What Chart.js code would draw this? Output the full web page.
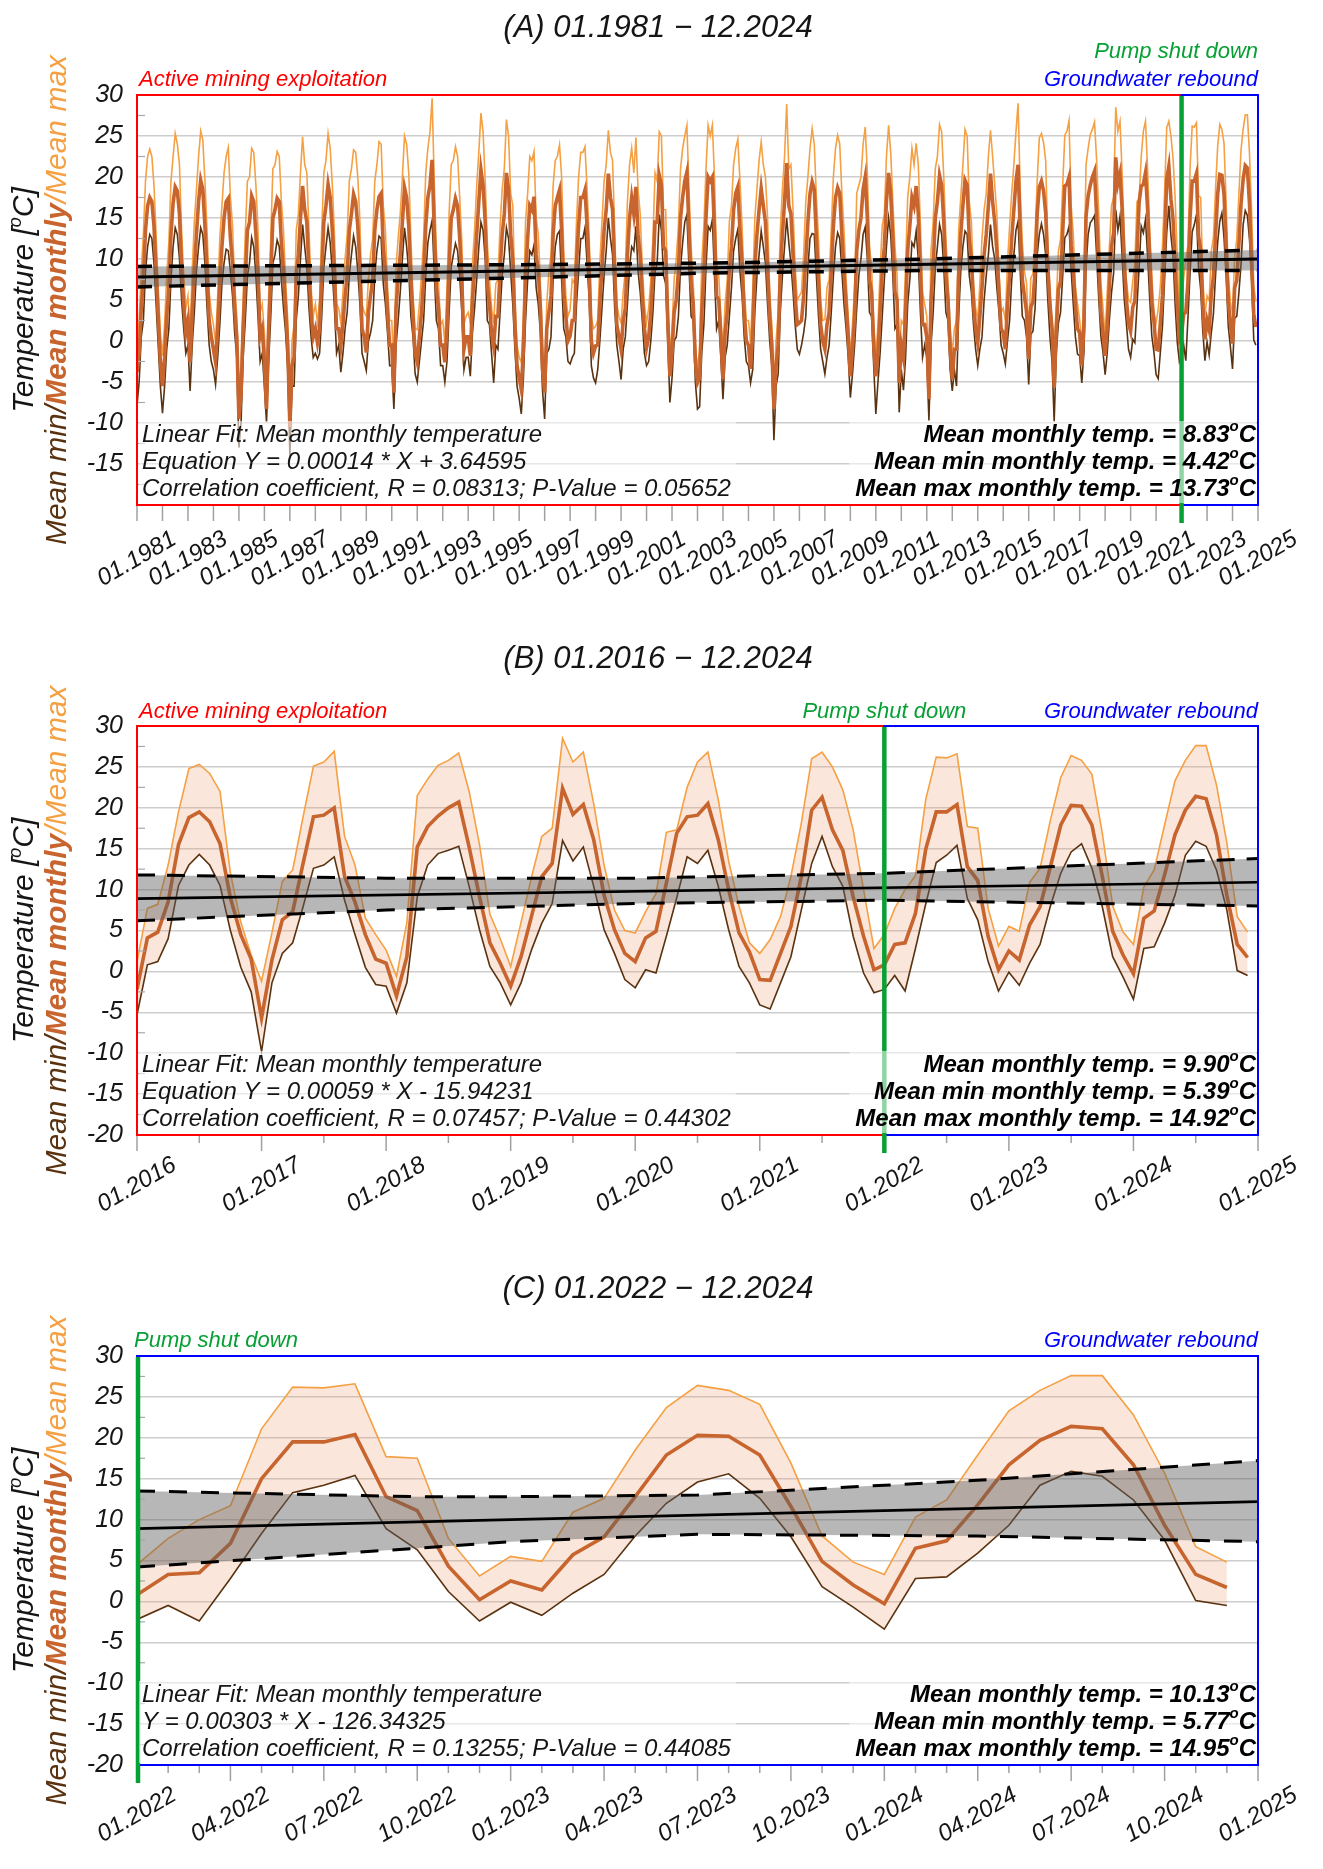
<!DOCTYPE html>
<html>
<head>
<meta charset="utf-8">
<script src="https://cdn.jsdelivr.net/npm/chart.js@4.4.1/dist/chart.umd.min.js"></script>
<style>
  html, body { margin: 0; padding: 0; background: #fff; }
  #wrap { position: relative; width: 1323px; height: 1869px; }
  canvas { position: absolute; left: 0; }
</style>
</head>
<body>
<div id="wrap">
  <canvas id="chartA" width="1323" height="630" style="top:0px;width:1323px;height:630px"></canvas>
  <canvas id="chartB" width="1323" height="630" style="top:630px;width:1323px;height:630px"></canvas>
  <canvas id="chartC" width="1323" height="609" style="top:1260px;width:1323px;height:609px"></canvas>
</div>
<script>
const FONT = "'Liberation Sans', Arial, Helvetica, sans-serif";
const START_YEAR = 1981;
const PUMP_SHUT_DOWN = 2022;

// monthly mean temperature, one row per year, Jan..Dec
const meanTemp = [
  -3.8, -1.5, 4.0, 7.5, 13.5, 16.5, 17.5, 17.0, 14.0, 8.5, 3.0, -2.5,   // 1981
  -5.5, -2.0, 3.0, 6.5, 13.0, 16.8, 18.8, 18.3, 15.5, 9.0, 4.5, 1.0,    // 1982
  2.5, -2.6, 3.5, 8.5, 13.0, 17.0, 19.6, 18.5, 14.0, 8.5, 2.5, 0.5,     // 1983
  -1.0, -2.6, 1.5, 7.0, 11.5, 15.0, 17.0, 17.4, 12.5, 9.5, 4.0, 0.5,    // 1984
  -9.5, -6.5, 1.5, 7.5, 13.5, 14.5, 17.7, 17.0, 13.0, 8.0, 0.5, 1.5,    // 1985
  -2.5, -8.3, 1.5, 7.5, 15.0, 16.0, 17.4, 17.0, 12.0, 8.5, 4.0, -0.5,   // 1986
  -10.5, -3.0, -2.0, 8.0, 10.5, 15.0, 18.9, 16.0, 14.5, 8.5, 3.5, 0.5,  // 1987
  1.5, -0.2, 1.5, 8.0, 14.5, 16.5, 19.1, 17.5, 13.5, 8.5, 1.5, 1.5,     // 1988
  -0.6, 2.0, 5.5, 8.0, 13.5, 15.5, 17.9, 17.0, 14.0, 9.0, 1.5, 0.5,     // 1989
  -1.4, 3.5, 5.5, 7.5, 13.5, 16.0, 17.6, 18.0, 11.5, 8.5, 3.5, -0.5,    // 1990
  -0.5, -6.3, 4.0, 7.5, 10.5, 14.5, 18.7, 17.5, 14.0, 7.5, 3.0, -1.5,   // 1991
  -2.6, 0.5, 3.5, 7.5, 14.0, 17.5, 19.0, 22.1, 13.5, 6.5, 4.0, -0.5,    // 1992
  -0.5, -2.6, 1.5, 9.0, 15.0, 16.0, 17.4, 16.5, 12.5, 7.5, -1.0, 0.5,   // 1993
  0.5, -1.8, 5.0, 8.5, 13.0, 17.0, 20.9, 19.0, 14.5, 7.0, 4.5, 1.0,     // 1994
  -0.6, 3.0, 3.0, 8.5, 13.0, 15.5, 20.5, 18.5, 13.0, 10.0, 2.0, -3.0,   // 1995
  -4.5, -5.9, -1.0, 8.0, 12.5, 16.5, 16.0, 17.6, 10.5, 8.5, 4.0, -3.5,  // 1996
  -6.3, 1.5, 3.5, 5.5, 13.0, 16.5, 17.5, 18.4, 13.5, 6.0, 3.0, 0.0,     // 1997
  0.6, 2.5, 2.5, 9.5, 14.0, 17.5, 17.5, 18.4, 14.0, 8.5, 0.0, -1.5,     // 1998
  -0.6, -0.5, 4.5, 9.0, 13.5, 16.0, 20.4, 17.5, 16.0, 8.5, 2.0, 0.5,    // 1999
  -1.0, 2.5, 4.0, 10.5, 15.0, 17.5, 15.5, 18.8, 13.0, 10.5, 5.5, 1.5,   // 2000
  -0.8, 0.5, 3.5, 8.0, 14.5, 14.5, 20.2, 19.0, 11.5, 11.0, 2.5, -4.3,   // 2001
  -1.5, 3.5, 5.0, 8.5, 15.0, 17.5, 19.5, 20.6, 13.5, 7.0, 4.5, -2.5,    // 2002
  -5.1, -4.5, 3.5, 8.0, 15.0, 20.0, 19.5, 20.0, 13.5, 5.5, 5.0, 0.5,    // 2003
  -4.7, 1.0, 3.5, 8.5, 11.5, 16.0, 18.0, 18.8, 13.5, 9.5, 3.5, 0.0,     // 2004
  -0.5, -3.4, 1.0, 9.0, 13.0, 16.0, 18.6, 16.5, 14.5, 9.0, 3.0, -0.5,   // 2005
  -8.3, -3.0, -0.5, 8.5, 13.0, 17.0, 21.7, 16.5, 15.5, 10.5, 5.5, 2.0,  // 2006
  2.2, 2.5, 5.5, 10.0, 14.5, 18.0, 19.4, 18.5, 12.5, 7.5, 2.0, 0.0,     // 2007
  -1.0, 2.0, 3.5, 8.5, 14.0, 17.5, 18.7, 18.0, 13.0, 8.5, 4.5, 0.5,     // 2008
  -4.3, -1.0, 3.0, 11.0, 13.5, 15.0, 18.5, 20.0, 15.0, 7.5, 6.0, -0.5,  // 2009
  -4.3, -1.5, 3.5, 8.5, 11.5, 17.0, 20.5, 18.0, 12.5, 6.0, 5.0, -5.1,   // 2010
  -0.5, -2.0, 3.5, 11.0, 14.0, 17.5, 16.5, 18.9, 15.5, 8.5, 2.0, 2.0,   // 2011
  0.5, -7.1, 5.0, 9.0, 15.0, 17.0, 20.2, 19.0, 14.5, 8.0, 5.0, -1.0,    // 2012
  -4.7, -1.0, -1.0, 8.0, 13.0, 16.5, 19.6, 19.0, 12.5, 10.0, 4.5, 1.5,  // 2013
  -0.2, 3.0, 6.5, 10.5, 13.0, 16.5, 20.4, 17.0, 14.5, 11.0, 6.0, 1.5,   // 2014
  1.0, -1.0, 4.5, 8.0, 12.5, 16.0, 19.5, 21.5, 13.5, 7.5, 5.5, 3.5,     // 2015
  -2.2, 4.1, 4.8, 8.5, 15.5, 18.8, 19.5, 18.3, 15.6, 9.0, 4.5, 1.5,     // 2016
  -5.7, 1.4, 6.3, 7.3, 13.2, 18.9, 19.1, 20.0, 11.6, 8.5, 4.5, 1.5,     // 2017
  1.0, -3.0, 1.8, 15.2, 17.7, 19.0, 20.0, 20.7, 15.2, 9.1, 3.5, 1.0,    // 2018
  -1.8, 1.8, 6.7, 11.6, 13.2, 22.4, 19.2, 20.4, 16.1, 9.3, 5.1, 2.2,    // 2019
  1.2, 4.1, 4.9, 10.8, 16.9, 18.9, 19.1, 20.5, 16.1, 10.0, 4.7, 2.4,    // 2020
  -1.0, -1.1, 2.2, 5.5, 11.6, 19.7, 21.3, 17.3, 14.8, 9.1, 4.3, 0.2,    // 2021
  0.8, 3.3, 3.5, 7.1, 15.0, 19.5, 19.5, 20.4, 12.8, 11.1, 4.3, 0.2,     // 2022
  2.5, 1.4, 5.7, 7.9, 12.8, 17.9, 20.3, 20.2, 17.9, 11.6, 4.9, 2.0,     // 2023
  -0.3, 6.5, 7.4, 11.8, 16.7, 19.7, 21.4, 21.1, 16.7, 9.3, 3.3, 1.7     // 2024
];

// monthly mean of daily maxima
const maxTemp = [
  -0.6, 2.5, 8.5, 13.0, 19.5, 22.5, 23.4, 22.5, 19.0, 13.0, 6.5, 1.0,   // 1981
  -1.8, 2.0, 8.0, 12.0, 19.5, 22.5, 25.3, 24.0, 21.5, 13.5, 8.0, 4.0,   // 1982
  5.5, 0.5, 8.5, 14.5, 18.5, 22.5, 25.6, 24.5, 19.5, 13.5, 6.0, 3.5,    // 1983
  2.0, -0.2, 5.5, 12.5, 16.5, 20.5, 22.5, 23.6, 17.5, 14.0, 7.0, 3.0,   // 1984
  -5.9, -3.0, 5.5, 13.0, 19.5, 20.0, 23.5, 23.0, 19.0, 13.5, 3.5, 4.5,  // 1985
  1.0, -4.7, 5.5, 12.5, 21.0, 21.5, 23.1, 22.5, 17.0, 13.5, 7.5, 2.5,   // 1986
  -7.9, 0.0, 2.0, 13.5, 15.5, 20.5, 24.9, 21.5, 20.5, 13.5, 6.5, 3.0,   // 1987
  4.5, 2.2, 5.0, 13.5, 20.5, 22.0, 25.3, 23.5, 19.0, 13.0, 4.5, 4.0,    // 1988
  2.2, 6.0, 10.0, 13.0, 19.5, 21.0, 23.3, 23.0, 20.0, 14.5, 4.5, 3.5,   // 1989
  3.0, 7.5, 10.5, 12.5, 19.5, 21.5, 24.3, 24.0, 16.5, 13.5, 6.5, 2.5,   // 1990
  2.5, -3.8, 9.0, 12.5, 15.5, 20.0, 25.0, 24.0, 20.5, 12.5, 5.5, 1.5,   // 1991
  1.4, 4.5, 8.0, 12.5, 20.5, 23.5, 25.5, 29.6, 19.5, 11.0, 7.0, 2.0,    // 1992
  2.5, -0.2, 6.5, 15.5, 21.5, 22.0, 23.7, 22.5, 17.5, 12.0, 2.0, 3.0,   // 1993
  3.5, 2.2, 9.5, 13.5, 19.0, 23.0, 27.8, 25.5, 19.5, 12.0, 7.5, 4.0,    // 1994
  2.2, 7.0, 7.5, 14.0, 18.5, 21.0, 27.0, 25.0, 18.0, 16.5, 5.0, -0.5,   // 1995
  -2.0, -2.6, 3.0, 14.5, 18.0, 22.5, 22.0, 23.1, 15.0, 13.0, 7.0, -0.5, // 1996
  -4.3, 4.5, 8.5, 10.5, 19.0, 22.0, 22.5, 23.9, 20.0, 11.0, 5.5, 3.0,   // 1997
  3.8, 7.5, 7.0, 14.5, 20.0, 23.0, 23.0, 23.7, 18.5, 12.5, 3.0, 1.5,    // 1998
  1.8, 2.5, 9.5, 14.5, 19.5, 21.5, 25.7, 23.0, 22.0, 13.5, 4.5, 3.0,    // 1999
  2.2, 6.0, 8.5, 17.0, 21.5, 23.5, 20.5, 24.8, 18.5, 15.5, 9.0, 4.5,    // 2000
  2.2, 4.0, 7.5, 12.5, 20.5, 19.5, 25.5, 25.0, 16.0, 16.0, 5.5, -1.5,   // 2001
  1.5, 7.5, 10.0, 14.0, 21.0, 23.5, 25.0, 26.3, 18.5, 11.5, 7.0, -0.5,  // 2002
  -3.4, -1.0, 9.5, 14.0, 21.0, 26.3, 25.0, 26.3, 20.0, 9.5, 8.0, 3.0,   // 2003
  -1.0, 4.5, 7.5, 14.5, 16.5, 21.5, 23.5, 24.6, 19.5, 14.0, 6.5, 2.5,   // 2004
  2.5, -0.2, 6.0, 15.0, 18.5, 22.0, 24.3, 21.5, 20.0, 15.0, 6.0, 2.0,   // 2005
  -5.9, 0.0, 3.5, 13.5, 18.5, 22.5, 28.9, 21.0, 21.5, 16.0, 9.0, 5.0,   // 2006
  5.5, 6.0, 10.5, 17.0, 20.0, 23.5, 25.9, 24.0, 17.5, 12.5, 5.0, 2.5,   // 2007
  2.6, 6.5, 7.5, 13.5, 20.0, 23.5, 25.1, 24.0, 18.0, 13.5, 7.5, 3.0,    // 2008
  -1.8, 2.0, 6.5, 18.0, 19.0, 20.0, 24.0, 26.1, 20.5, 11.5, 9.0, 2.0,   // 2009
  -1.8, 2.0, 8.5, 14.0, 15.5, 22.5, 26.3, 23.0, 17.0, 11.5, 8.0, -2.0,  // 2010
  2.5, 2.0, 9.0, 17.5, 20.0, 23.5, 21.5, 24.1, 21.5, 14.0, 6.0, 4.5,    // 2011
  3.0, -3.5, 11.0, 14.5, 21.0, 22.5, 26.4, 25.5, 20.0, 12.5, 7.5, 1.5,  // 2012
  -1.5, 1.5, 2.5, 13.5, 17.5, 21.5, 25.8, 25.0, 17.0, 14.5, 7.0, 4.0,   // 2013
  2.5, 7.0, 12.5, 16.0, 18.0, 22.5, 25.7, 22.5, 19.0, 15.5, 8.5, 3.5,   // 2014
  4.0, 2.5, 9.5, 14.0, 18.0, 21.5, 25.5, 29.0, 18.5, 12.0, 8.5, 7.0,    // 2015
  1.2, 7.7, 8.2, 13.0, 19.5, 24.8, 25.3, 24.2, 22.0, 12.0, 6.0, 2.0,    // 2016
  -1.2, 4.7, 11.0, 12.4, 18.9, 25.1, 25.6, 26.9, 16.5, 13.0, 6.5, 4.5,  // 2017
  2.6, -0.6, 6.0, 21.5, 23.5, 25.2, 25.8, 26.7, 22.0, 15.5, 7.0, 4.0,   // 2018
  0.6, 6.0, 11.5, 16.5, 17.5, 28.5, 25.6, 26.8, 20.5, 13.0, 7.5, 5.0,   // 2019
  4.7, 7.3, 9.5, 17.0, 17.3, 22.5, 25.6, 26.8, 21.0, 13.5, 8.0, 3.5,    // 2020
  2.2, 3.9, 6.7, 11.6, 18.1, 26.0, 26.8, 25.0, 22.2, 17.3, 10.0, 2.8,   // 2021
  4.5, 7.7, 10.0, 11.7, 21.1, 26.2, 26.1, 26.6, 17.7, 17.5, 7.7, 3.1,   // 2022
  5.5, 4.9, 10.9, 12.6, 18.5, 23.7, 26.4, 25.8, 24.1, 16.9, 8.0, 4.8,   // 2023
  3.3, 10.3, 12.4, 17.9, 23.3, 25.8, 27.6, 27.6, 22.8, 15.7, 6.7, 4.8   // 2024
];

// monthly mean of daily minima
const minTemp = [
  -7.9, -5.0, 0.5, 2.5, 8.5, 11.5, 13.0, 12.5, 9.5, 4.5, -0.5, -5.5,    // 1981
  -8.8, -5.5, -1.0, 1.5, 7.5, 11.5, 13.8, 13.0, 10.0, 5.0, 1.5, -1.5,   // 1982
  -0.5, -6.1, -0.5, 3.5, 8.5, 11.5, 13.8, 13.0, 9.5, 4.0, -0.5, -2.5,   // 1983
  -3.5, -5.3, -2.0, 2.0, 7.0, 9.5, 11.2, 11.0, 8.5, 5.5, 1.0, -2.0,     // 1984
  -13.0, -10.0, -2.0, 2.5, 8.0, 9.5, 12.6, 11.5, 8.0, 3.0, -2.5, -1.5,  // 1985
  -5.5, -9.9, -2.5, 3.0, 9.5, 10.5, 12.3, 11.5, 7.5, 4.0, 1.0, -3.5,    // 1986
  -14.0, -5.5, -5.5, 2.5, 5.5, 10.0, 14.2, 11.5, 9.0, 4.0, 0.5, -2.0,   // 1987
  -1.5, -2.2, -1.5, 3.0, 9.0, 11.5, 13.8, 12.0, 8.5, 4.0, -1.5, -0.5,   // 1988
  -3.8, -1.5, 1.5, 3.5, 8.0, 10.5, 12.8, 11.5, 8.5, 4.5, -1.5, -2.5,    // 1989
  -3.6, 0.0, 1.0, 2.5, 8.0, 11.0, 12.8, 12.5, 7.0, 4.5, 1.0, -3.0,      // 1990
  -3.0, -8.3, -0.5, 2.5, 6.0, 10.0, 13.8, 11.5, 8.5, 3.0, 0.5, -4.0,    // 1991
  -5.0, -2.5, 0.0, 2.5, 8.0, 12.0, 13.5, 14.7, 8.5, 2.5, 1.5, -3.0,     // 1992
  -3.0, -5.0, -2.5, 3.5, 9.0, 10.5, 11.9, 11.0, 8.0, 3.5, -3.5, -2.0,   // 1993
  -2.0, -4.3, 1.0, 4.0, 7.5, 11.5, 14.5, 13.5, 10.0, 2.5, 2.0, -1.5,    // 1994
  -5.1, -0.5, -1.0, 3.5, 8.0, 10.5, 13.8, 12.5, 8.5, 4.5, -1.0, -5.5,   // 1995
  -7.0, -8.9, -4.5, 2.5, 7.5, 11.0, 10.5, 11.7, 6.5, 4.5, 1.0, -6.0,    // 1996
  -9.5, -1.5, -1.0, 0.5, 7.5, 11.5, 13.0, 13.4, 7.5, 1.5, 0.5, -2.5,    // 1997
  -2.8, -2.0, -1.5, 4.5, 8.5, 12.5, 12.5, 13.8, 9.5, 5.0, -3.0, -4.5,   // 1998
  -5.1, -3.5, 0.0, 4.0, 8.0, 11.0, 15.0, 12.5, 10.5, 4.0, -0.5, -2.5,   // 1999
  -4.7, -1.0, 0.5, 4.5, 9.0, 11.5, 11.0, 14.0, 8.5, 6.0, 2.5, -1.5,     // 2000
  -3.0, -2.5, 0.0, 3.5, 8.5, 9.5, 15.4, 13.5, 8.0, 7.0, 0.0, -7.5,      // 2001
  -4.5, 0.0, 0.5, 3.0, 9.0, 12.0, 14.5, 15.4, 9.0, 3.0, 2.5, -5.0,      // 2002
  -8.3, -8.0, -1.5, 2.0, 9.0, 14.0, 13.5, 14.8, 8.0, 1.5, 2.5, -2.0,    // 2003
  -7.1, -2.0, -0.5, 3.0, 6.5, 11.0, 12.5, 13.6, 8.5, 5.5, 0.5, -2.5,    // 2004
  -3.0, -5.1, -3.5, 3.5, 8.0, 10.5, 13.4, 11.5, 9.5, 4.5, 0.0, -3.0,    // 2005
  -12.1, -5.5, -4.0, 3.5, 8.0, 11.5, 15.0, 12.0, 9.5, 6.0, 2.0, -1.0,   // 2006
  -1.6, -0.5, 1.0, 3.0, 9.0, 12.5, 13.1, 13.0, 8.0, 3.0, -1.0, -2.5,    // 2007
  -4.0, -2.0, -0.5, 3.5, 8.0, 11.5, 13.2, 12.5, 8.5, 4.5, 1.5, -2.0,    // 2008
  -6.9, -4.0, -0.5, 4.0, 8.0, 10.0, 13.0, 13.9, 10.0, 3.5, 3.0, -3.0,   // 2009
  -8.9, -5.0, -1.5, 3.0, 7.5, 11.5, 15.0, 13.0, 8.0, 1.5, 2.0, -8.7,    // 2010
  -3.5, -6.0, -2.0, 4.5, 7.5, 12.0, 11.5, 13.4, 10.0, 3.5, -2.0, -0.5,  // 2011
  -2.0, -9.7, -0.5, 3.5, 9.0, 11.5, 14.2, 13.0, 9.0, 3.5, 2.5, -3.5,    // 2012
  -6.1, -3.5, -5.5, 3.0, 8.5, 11.5, 13.4, 13.0, 8.0, 6.0, 2.0, -1.0,    // 2013
  -3.0, -1.0, 0.5, 5.0, 8.0, 10.5, 14.2, 11.5, 10.0, 6.5, 3.5, -0.5,    // 2014
  -1.5, -2.8, 0.0, 2.5, 7.5, 10.5, 13.5, 14.6, 8.5, 3.0, 2.5, 0.5,      // 2015
  -5.3, 0.8, 1.2, 4.0, 10.5, 13.0, 14.3, 13.0, 10.5, 5.0, 0.5, -2.5,    // 2016
  -9.8, -1.4, 2.2, 3.5, 7.9, 12.6, 13.0, 14.0, 8.7, 4.5, 0.5, -1.6,     // 2017
  -1.8, -5.1, -1.4, 9.1, 13.0, 14.4, 14.8, 15.3, 10.4, 5.1, 0.6, -1.4,  // 2018
  -4.1, -1.4, 2.6, 5.9, 8.3, 16.0, 13.5, 15.2, 10.4, 5.1, 2.2, -1.0,    // 2019
  -2.0, 0.2, -0.2, 4.3, 9.0, 14.0, 13.2, 14.8, 10.4, 5.1, 0.6, -1.4,    // 2020
  -4.1, -4.6, -1.4, 1.8, 7.5, 13.2, 16.5, 12.8, 10.4, 4.3, -0.2, -2.6,  // 2021
  -2.2, -0.5, -2.4, 2.8, 8.3, 13.3, 14.2, 15.4, 8.9, 6.3, 1.2, -2.4,    // 2022
  -0.1, -1.7, 1.0, 3.3, 8.0, 12.0, 14.6, 15.6, 12.6, 7.9, 1.8, -0.7,    // 2023
  -3.4, 2.8, 3.0, 5.9, 9.3, 14.2, 15.9, 15.3, 12.4, 7.5, 0.1, -0.5      // 2024
];

const labelsA = ['01.1981', '01.1983', '01.1985', '01.1987', '01.1989', '01.1991', '01.1993',
  '01.1995', '01.1997', '01.1999', '01.2001', '01.2003', '01.2005', '01.2007', '01.2009',
  '01.2011', '01.2013', '01.2015', '01.2017', '01.2019', '01.2021', '01.2023', '01.2025'];
const labelsB = ['01.2016', '01.2017', '01.2018', '01.2019', '01.2020', '01.2021', '01.2022',
  '01.2023', '01.2024', '01.2025'];
const labelsC = ['01.2022', '04.2022', '07.2022', '10.2022', '01.2023', '04.2023', '07.2023',
  '10.2023', '01.2024', '04.2024', '07.2024', '10.2024', '01.2025'];

// linear fit of the mean and its band
const fitYearsA = [1981, 2025];
const fitA = [7.8, 10.0];
const bandYearsA = [1981, 1996, 2003.5, 2012, 2025];
const bandUpperA = [9.1, 9.3, 9.5, 10.0, 11.1];
const bandLowerA = [6.6, 7.7, 8.3, 8.6, 8.6];

const fitYearsB = [2016, 2025];
const fitB = [8.9, 10.9];
const bandYearsB = [2016, 2018, 2020, 2022, 2025];
const bandUpperB = [11.8, 11.4, 11.4, 12.0, 13.8];
const bandLowerB = [6.2, 7.5, 8.3, 8.7, 8.0];

const fitYearsC = [2022, 2025];
const fitC = [8.9, 12.2];
const bandYearsC = [2022, 2022.75, 2023, 2023.5, 2024.25, 2025];
const bandUpperC = [13.5, 12.8, 12.8, 13.0, 14.8, 17.2];
const bandLowerC = [4.2, 6.5, 7.3, 8.2, 8.0, 7.3];

const fitTextA = ['Linear Fit: Mean monthly temperature', 'Equation Y = 0.00014 * X + 3.64595',
  'Correlation coefficient, R = 0.08313; P-Value = 0.05652'];
const fitTextB = ['Linear Fit: Mean monthly temperature', 'Equation Y = 0.00059 * X - 15.94231',
  'Correlation coefficient, R = 0.07457; P-Value = 0.44302'];
const fitTextC = ['Linear Fit: Mean monthly temperature', 'Y = 0.00303 * X - 126.34325',
  'Correlation coefficient, R = 0.13255; P-Value = 0.44085'];
const statsA = ['Mean monthly temp. = 8.83°C', 'Mean min monthly temp. = 4.42°C', 'Mean max monthly temp. = 13.73°C'];
const statsB = ['Mean monthly temp. = 9.90°C', 'Mean min monthly temp. = 5.39°C', 'Mean max monthly temp. = 14.92°C'];
const statsC = ['Mean monthly temp. = 10.13°C', 'Mean min monthly temp. = 5.77°C', 'Mean max monthly temp. = 14.95°C'];

const COLOR_MAX = '#f5a043';
const COLOR_MEAN = '#c8642d';
const COLOR_MIN = '#5a3210';
const COLOR_RED = '#ff0000';
const COLOR_BLUE = '#0000ff';
const COLOR_GREEN = '#07a034';

function monthPoints(values, fromYear, toYear) {
	const first = (fromYear - START_YEAR) * 12;
	const last = (toYear - START_YEAR) * 12;
	return values.slice(first, last).map((v, i) => ({ x: fromYear + i / 12, y: v }));
}

function pairPoints(xs, ys) {
	return xs.map((x, i) => ({ x, y: ys[i] }));
}

function labelValue(label) {
	const [month, year] = label.split('.').map(Number);
	return year + (month - 1) / 12;
}

// split text on '°' so the degree sign is drawn as a small raised "o"
function richParts(text, font, supFont, color) {
	const parts = [];
	text.split('°').forEach((chunk, i) => {
		if (i > 0) parts.push({ text: 'o', font: supFont, color, sup: true });
		if (chunk) parts.push({ text: chunk, font, color });
	});
	return parts;
}

function measureParts(ctx, parts) {
	let width = 0;
	parts.forEach((p) => {
		ctx.font = p.font;
		p.w = ctx.measureText(p.text).width;
		width += p.w;
	});
	return width;
}

function drawParts(ctx, parts, x, y, align, raise = 8) {
	const width = measureParts(ctx, parts);
	let cx = align === 'right' ? x - width : align === 'center' ? x - width / 2 : x;
	ctx.textAlign = 'left';
	ctx.textBaseline = 'middle';
	parts.forEach((p) => {
		ctx.font = p.font;
		ctx.fillStyle = p.color;
		ctx.fillText(p.text, cx, p.sup ? y - raise : y);
		cx += p.w;
	});
	return width;
}

const panelPlugin = {
	id: 'panel',
	afterDatasetsDraw(chart, args, o) {
		const { ctx, chartArea: a } = chart;
		const xScale = chart.scales.x;
		const pumpX = xScale.getPixelForValue(PUMP_SHUT_DOWN);
		ctx.save();

		// small ticks at the half steps of the y axis
		ctx.strokeStyle = '#a8a8a8';
		ctx.lineWidth = 1.2;
		for (let v = -17.5; v < 30; v += 5) {
			const py = chart.scales.y.getPixelForValue(v);
			ctx.beginPath();
			ctx.moveTo(a.left, py);
			ctx.lineTo(a.left + 8, py);
			ctx.stroke();
		}

		// ticks under the x axis
		ctx.strokeStyle = '#a0a0a0';
		ctx.lineWidth = 1.5;
		const steps = Math.round((o.xMax - o.xMin) / o.tickStep);
		for (let i = 0; i <= steps; i++) {
			const px = xScale.getPixelForValue(o.xMin + i * o.tickStep);
			const len = i % o.majorEvery === 0 ? 16 : 8;
			ctx.beginPath();
			ctx.moveTo(px, a.bottom);
			ctx.lineTo(px, a.bottom + len);
			ctx.stroke();
		}

		ctx.lineWidth = 2;
		if (pumpX > a.left + 1) {
			ctx.strokeStyle = COLOR_RED;
			ctx.strokeRect(a.left, a.top, pumpX - a.left, a.bottom - a.top);
		}
		ctx.strokeStyle = COLOR_BLUE;
		ctx.strokeRect(pumpX, a.top, a.right - pumpX, a.bottom - a.top);

		ctx.strokeStyle = COLOR_GREEN;
		ctx.lineWidth = 4.5;
		ctx.beginPath();
		ctx.moveTo(pumpX + (pumpX > a.left + 1 ? 0 : 1), a.top + 1);
		ctx.lineTo(pumpX + (pumpX > a.left + 1 ? 0 : 1), a.bottom + 18);
		ctx.stroke();
		ctx.restore();
	},
	afterDraw(chart, args, o) {
		const { ctx, chartArea: a } = chart;
		const xScale = chart.scales.x;
		const pumpX = xScale.getPixelForValue(PUMP_SHUT_DOWN);
		const regular = `italic 24px ${FONT}`;
		const bold = `italic bold 24px ${FONT}`;
		const sup = `italic 15px ${FONT}`;
		const supBold = `italic bold 15px ${FONT}`;
		const rows = [a.bottom - 70, a.bottom - 43, a.bottom - 16];
		ctx.save();

		// text blocks sit on a half transparent white ground
		const leftParts = o.fitText.map((t) => richParts(t, regular, sup, '#151515'));
		const rightParts = o.stats.map((t) => richParts(t, bold, supBold, '#000'));
		const leftW = Math.max(...leftParts.map((p) => measureParts(ctx, p)));
		const rightW = Math.max(...rightParts.map((p) => measureParts(ctx, p)));
		ctx.fillStyle = 'rgba(255,255,255,0.55)';
		ctx.fillRect(a.left + 2, a.bottom - 84, leftW + 8, 82);
		ctx.fillRect(a.right - rightW - 8, a.bottom - 84, rightW + 6, 82);
		leftParts.forEach((p, i) => drawParts(ctx, p, a.left + 5, rows[i], 'left'));
		rightParts.forEach((p, i) => drawParts(ctx, p, a.right - 2, rows[i], 'right'));

		// rotated x labels, centred on their ticks
		ctx.font = `italic 24px ${FONT}`;
		ctx.fillStyle = '#151515';
		ctx.textAlign = 'center';
		ctx.textBaseline = 'middle';
		o.labels.forEach((label) => {
			const px = xScale.getPixelForValue(labelValue(label));
			ctx.save();
			ctx.translate(px, a.bottom + o.labelOffset);
			ctx.rotate(-30 * Math.PI / 180);
			ctx.fillText(label, 0, 0);
			ctx.restore();
		});

		// panel title
		ctx.font = `italic 31px ${FONT}`;
		ctx.fillStyle = '#151515';
		ctx.textAlign = 'center';
		ctx.fillText(o.title, 658, o.titleY);

		// phase labels above the plot
		ctx.font = `italic 22px ${FONT}`;
		o.notes.forEach((n) => {
			ctx.fillStyle = n.color;
			let x = a.left;
			ctx.textAlign = 'left';
			if (n.at === 'right') {
				x = a.right;
				ctx.textAlign = 'right';
			} else if (n.at === 'pump') {
				x = pumpX;
				ctx.textAlign = 'center';
			}
			ctx.fillText(n.text, x + (n.dx || 0), n.y);
		});

		// two line y axis title
		const midY = (a.top + a.bottom) / 2;
		ctx.save();
		ctx.translate(25, midY);
		ctx.rotate(-Math.PI / 2);
		drawParts(ctx, richParts('Temperature [°C]', `italic 30px ${FONT}`, `italic 18px ${FONT}`, '#151515'), 0, 0, 'center', 9);
		ctx.restore();
		ctx.save();
		ctx.translate(58, midY);
		ctx.rotate(-Math.PI / 2);
		drawParts(ctx, [
			{ text: 'Mean min/', font: `italic 30px ${FONT}`, color: COLOR_MIN },
			{ text: 'Mean monthly', font: `italic bold 30px ${FONT}`, color: COLOR_MEAN },
			{ text: '/Mean max', font: `italic 30px ${FONT}`, color: COLOR_MAX }
		], 0, 0, 'center');
		ctx.restore();

		ctx.restore();
	}
};

function buildChart(id, p) {
	const datasets = [
		{
			data: monthPoints(maxTemp, p.xMin, p.xMax),
			borderColor: COLOR_MAX,
			borderWidth: 1.6,
			fill: p.shade ? 2 : false,
			backgroundColor: 'rgba(236,150,105,0.24)',
			order: 10
		},
		{
			data: monthPoints(meanTemp, p.xMin, p.xMax),
			borderColor: COLOR_MEAN,
			borderWidth: 3.6,
			fill: false,
			order: 8
		},
		{
			data: monthPoints(minTemp, p.xMin, p.xMax),
			borderColor: COLOR_MIN,
			borderWidth: 1.6,
			fill: false,
			order: 9
		},
		{
			data: pairPoints(p.bandYears, p.bandUpper),
			borderColor: '#000',
			borderWidth: p.dashWidth,
			borderDash: p.dash,
			fill: 4,
			backgroundColor: 'rgba(95,95,95,0.45)',
			order: 3
		},
		{
			data: pairPoints(p.bandYears, p.bandLower),
			borderColor: '#000',
			borderWidth: p.dashWidth,
			borderDash: p.dash,
			fill: false,
			order: 2
		},
		{
			data: pairPoints(p.fitYears, p.fit),
			borderColor: '#000',
			borderWidth: p.fitWidth,
			fill: false,
			order: 1
		}
	];

	return new Chart(document.getElementById(id), {
		type: 'line',
		data: { datasets },
		options: {
			responsive: false,
			animation: false,
			devicePixelRatio: 1,
			elements: { point: { radius: 0 }, line: { tension: 0 } },
			layout: { padding: { top: p.top, right: 65, bottom: 0, left: 0 } },
			scales: {
				x: {
					type: 'linear',
					min: p.xMin,
					max: p.xMax,
					grid: { display: false },
					border: { display: false },
					ticks: { display: false },
					afterFit: (scale) => { scale.height = p.canvasH - 505; }
				},
				y: {
					min: -20,
					max: 30,
					ticks: {
						stepSize: 5,
						padding: 14,
						color: '#151515',
						font: { family: FONT, size: 25, style: 'italic' },
						callback: (v) => (p.hideMin && v === -20 ? '' : String(v))
					},
					grid: { color: '#cdcdcd', lineWidth: 1.5, drawTicks: false },
					border: { display: false },
					afterFit: (scale) => { scale.width = 137; }
				}
			},
			plugins: {
				legend: { display: false },
				tooltip: { enabled: false },
				panel: p
			}
		},
		plugins: [panelPlugin]
	});
}

buildChart('chartA', {
	xMin: 1981, xMax: 2025, canvasH: 630, top: 95, hideMin: true, shade: false,
	tickStep: 1, majorEvery: 1, labels: labelsA, labelOffset: 54,
	bandYears: bandYearsA, bandUpper: bandUpperA, bandLower: bandLowerA,
	fitYears: fitYearsA, fit: fitA, dash: [15, 17], dashWidth: 3.5, fitWidth: 3,
	fitText: fitTextA, stats: statsA,
	title: '(A) 01.1981 − 12.2024', titleY: 28,
	notes: [
		{ text: 'Active mining exploitation', color: COLOR_RED, at: 'left', y: 80, dx: 2 },
		{ text: 'Groundwater rebound', color: COLOR_BLUE, at: 'right', y: 80 },
		{ text: 'Pump shut down', color: COLOR_GREEN, at: 'right', y: 52 }
	]
});

buildChart('chartB', {
	xMin: 2016, xMax: 2025, canvasH: 630, top: 96, hideMin: false, shade: true,
	tickStep: 0.5, majorEvery: 2, labels: labelsB, labelOffset: 50,
	bandYears: bandYearsB, bandUpper: bandUpperB, bandLower: bandLowerB,
	fitYears: fitYearsB, fit: fitB, dash: [18, 12], dashWidth: 3, fitWidth: 2.6,
	fitText: fitTextB, stats: statsB,
	title: '(B) 01.2016 − 12.2024', titleY: 29,
	notes: [
		{ text: 'Active mining exploitation', color: COLOR_RED, at: 'left', y: 82, dx: 2 },
		{ text: 'Pump shut down', color: COLOR_GREEN, at: 'pump', y: 82 },
		{ text: 'Groundwater rebound', color: COLOR_BLUE, at: 'right', y: 82 }
	]
});

buildChart('chartC', {
	xMin: 2022, xMax: 2025, canvasH: 609, top: 96, hideMin: false, shade: true,
	tickStep: 1 / 12, majorEvery: 3, labels: labelsC, labelOffset: 50,
	bandYears: bandYearsC, bandUpper: bandUpperC, bandLower: bandLowerC,
	fitYears: fitYearsC, fit: fitC, dash: [18, 14], dashWidth: 3, fitWidth: 2.6,
	fitText: fitTextC, stats: statsC,
	title: '(C) 01.2022 − 12.2024', titleY: 29,
	notes: [
		{ text: 'Pump shut down', color: COLOR_GREEN, at: 'left', y: 81, dx: -3 },
		{ text: 'Groundwater rebound', color: COLOR_BLUE, at: 'right', y: 81 }
	]
});
</script>
</body>
</html>
